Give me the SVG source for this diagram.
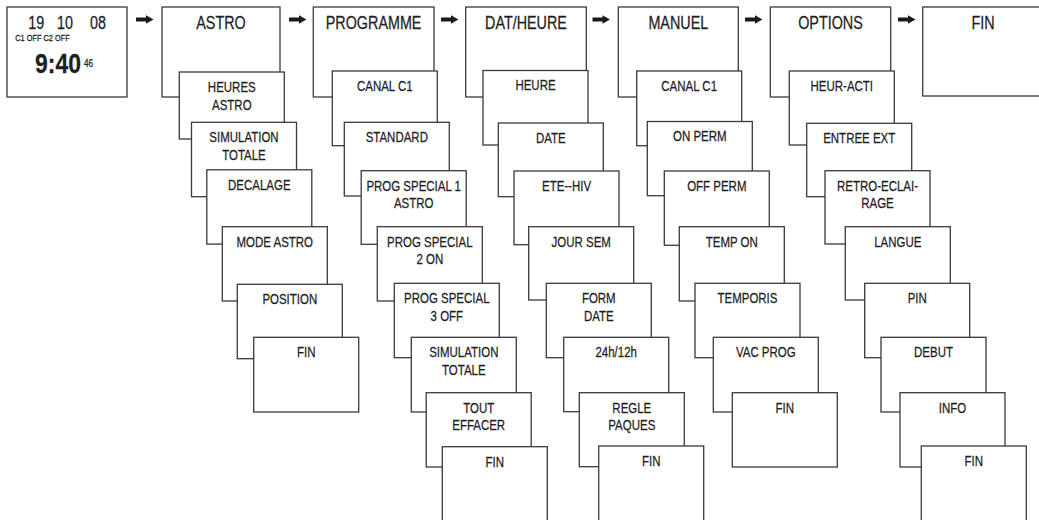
<svg xmlns="http://www.w3.org/2000/svg" width="1039" height="520" viewBox="0 0 1039 520">
<style>
.b{fill:#fff;stroke:#3a3a3a;stroke-width:1.3}
text{font-family:"Liberation Sans",Arial,sans-serif;fill:#1e1e1e;stroke:#1e1e1e;stroke-width:0.25;text-anchor:middle;transform-box:fill-box;transform-origin:center;transform:scaleX(0.82)}
.m{font-size:17.5px}
.s{font-size:14px}
.d{font-size:17.5px}
.a{fill:#1a1a1a}
</style>
<defs>
<path id="arr" class="a" d="M0,-2 h10 v-2.3 l7.5,4.3 l-7.5,4.3 v-2.3 h-10 z"/>
</defs>
<rect width="1039" height="520" fill="#fff"/>

<g id="display">
<rect class="b" x="7" y="7" width="120" height="90"/>
<text class="d" x="36.2" y="29">19</text>
<text class="d" x="65" y="29">10</text>
<text class="d" x="98" y="29">08</text>
<text x="42.5" y="41" style="font-size:9px">C1 OFF C2 OFF</text>
<text x="58" y="72.7" style="font-size:28px;font-weight:bold">9:40</text>
<text x="88.5" y="66.7" style="font-size:10px">46</text>
</g>

<g id="connectors">
<use href="#arr" x="136" y="19.5"/>
<use href="#arr" x="289" y="19.5"/>
<use href="#arr" x="441" y="19.5"/>
<use href="#arr" x="592.5" y="19.5"/>
<use href="#arr" x="745" y="19.5"/>
<use href="#arr" x="898" y="19.5"/>
</g>

<g id="astro">
<rect class="b" x="162" y="7" width="118" height="90"/>
<text class="m" x="221" y="29.5">ASTRO</text>
</g>
<g id="astro-1"><rect class="b" x="179.3" y="72" width="105" height="67"/><text class="s" x="231.8" y="92.3">HEURES</text><text class="s" x="231.8" y="110">ASTRO</text></g>
<g id="astro-2"><rect class="b" x="191.5" y="122.3" width="105" height="74.4"/><text class="s" x="244" y="142.3">SIMULATION</text><text class="s" x="244" y="160">TOTALE</text></g>
<g id="astro-3"><rect class="b" x="206.8" y="169.8" width="105" height="74.3"/><text class="s" x="259.3" y="189.8">DECALAGE</text></g>
<g id="astro-4"><rect class="b" x="222.3" y="226.7" width="105" height="74.3"/><text class="s" x="274.8" y="246.7">MODE ASTRO</text></g>
<g id="astro-5"><rect class="b" x="237.3" y="284.3" width="105" height="74.4"/><text class="s" x="289.8" y="304.3">POSITION</text></g>
<g id="astro-6"><rect class="b" x="253.7" y="337.3" width="105" height="74.7"/><text class="s" x="306.2" y="357.3">FIN</text></g>

<g id="programme">
<rect class="b" x="313.3" y="7" width="120.7" height="90"/>
<text class="m" x="373.6" y="29.5">PROGRAMME</text>
</g>
<g id="prog-1"><rect class="b" x="332.3" y="71" width="105" height="74.7"/><text class="s" x="384.8" y="91">CANAL C1</text></g>
<g id="prog-2"><rect class="b" x="344.3" y="122.3" width="105" height="73.7"/><text class="s" x="396.8" y="142.3">STANDARD</text></g>
<g id="prog-3"><rect class="b" x="361.2" y="170.7" width="105" height="73.6"/><text class="s" x="413.7" y="190.7">PROG SPECIAL 1</text><text class="s" x="413.7" y="208.4">ASTRO</text></g>
<g id="prog-4"><rect class="b" x="377.3" y="226.7" width="105" height="74.3"/><text class="s" x="429.8" y="246.7">PROG SPECIAL</text><text class="s" x="429.8" y="264.4">2 ON</text></g>
<g id="prog-5"><rect class="b" x="394.3" y="283.3" width="105" height="74.4"/><text class="s" x="446.8" y="303.3">PROG SPECIAL</text><text class="s" x="446.8" y="321">3 OFF</text></g>
<g id="prog-6"><rect class="b" x="411.3" y="337.3" width="105" height="74.7"/><text class="s" x="463.8" y="357.3">SIMULATION</text><text class="s" x="463.8" y="375">TOTALE</text></g>
<g id="prog-7"><rect class="b" x="426.2" y="392.7" width="105" height="74.3"/><text class="s" x="478.7" y="412.7">TOUT</text><text class="s" x="478.7" y="430.4">EFFACER</text></g>
<g id="prog-8"><rect class="b" x="442.3" y="446.7" width="105" height="76"/><text class="s" x="494.8" y="466.7">FIN</text></g>

<g id="datheure">
<rect class="b" x="465.7" y="7" width="120.6" height="90"/>
<text class="m" x="526" y="29.5">DAT/HEURE</text>
</g>
<g id="dat-1"><rect class="b" x="483" y="70.5" width="105" height="74.5"/><text class="s" x="535.5" y="90.5">HEURE</text></g>
<g id="dat-2"><rect class="b" x="498.3" y="123" width="105" height="73.7"/><text class="s" x="550.8" y="143">DATE</text></g>
<g id="dat-3"><rect class="b" x="514" y="171" width="105" height="73.7"/><text class="s" x="566.5" y="191">ETE--HIV</text></g>
<g id="dat-4"><rect class="b" x="528.7" y="226.7" width="105" height="73.3"/><text class="s" x="581.2" y="246.7">JOUR SEM</text></g>
<g id="dat-5"><rect class="b" x="546.3" y="283.3" width="105" height="74.4"/><text class="s" x="598.8" y="303.3">FORM</text><text class="s" x="598.8" y="321">DATE</text></g>
<g id="dat-6"><rect class="b" x="563.7" y="337.3" width="105" height="74.4"/><text class="s" x="616.2" y="357.3">24h/12h</text></g>
<g id="dat-7"><rect class="b" x="579.3" y="392.7" width="105" height="74"/><text class="s" x="631.8" y="412.7">REGLE</text><text class="s" x="631.8" y="430.4">PAQUES</text></g>
<g id="dat-8"><rect class="b" x="598.7" y="446" width="105" height="76"/><text class="s" x="651.2" y="466">FIN</text></g>

<g id="manuel">
<rect class="b" x="618.3" y="7" width="120" height="90"/>
<text class="m" x="678.3" y="29.5">MANUEL</text>
</g>
<g id="man-1"><rect class="b" x="636.7" y="71" width="105" height="74.7"/><text class="s" x="689.2" y="91">CANAL C1</text></g>
<g id="man-2"><rect class="b" x="647.3" y="121.5" width="105" height="74.2"/><text class="s" x="699.8" y="141.5">ON PERM</text></g>
<g id="man-3"><rect class="b" x="664.3" y="171" width="105" height="74.3"/><text class="s" x="716.8" y="191">OFF PERM</text></g>
<g id="man-4"><rect class="b" x="679.3" y="226.7" width="105" height="74.3"/><text class="s" x="731.8" y="246.7">TEMP ON</text></g>
<g id="man-5"><rect class="b" x="695" y="283.3" width="105" height="74.4"/><text class="s" x="747.5" y="303.3">TEMPORIS</text></g>
<g id="man-6"><rect class="b" x="713.3" y="337.3" width="105" height="74.7"/><text class="s" x="765.8" y="357.3">VAC PROG</text></g>
<g id="man-7"><rect class="b" x="732.3" y="392.7" width="105" height="74.3"/><text class="s" x="784.8" y="412.7">FIN</text></g>

<g id="options">
<rect class="b" x="770.3" y="7" width="120.4" height="90"/>
<text class="m" x="830.5" y="29.5">OPTIONS</text>
</g>
<g id="opt-1"><rect class="b" x="789.3" y="71" width="105" height="74"/><text class="s" x="841.8" y="91">HEUR-ACTI</text></g>
<g id="opt-2"><rect class="b" x="806.7" y="123.3" width="105" height="73.4"/><text class="s" x="859.2" y="143.3">ENTREE EXT</text></g>
<g id="opt-3"><rect class="b" x="825" y="170.7" width="105" height="73.3"/><text class="s" x="877.5" y="190.7">RETRO-ECLAI-</text><text class="s" x="877.5" y="208.4">RAGE</text></g>
<g id="opt-4"><rect class="b" x="845.3" y="226.7" width="105" height="73.3"/><text class="s" x="897.8" y="246.7">LANGUE</text></g>
<g id="opt-5"><rect class="b" x="864.7" y="283.3" width="105" height="74.4"/><text class="s" x="917.2" y="303.3">PIN</text></g>
<g id="opt-6"><rect class="b" x="881" y="337.3" width="105" height="74.7"/><text class="s" x="933.5" y="357.3">DEBUT</text></g>
<g id="opt-7"><rect class="b" x="900" y="392.7" width="105" height="74.3"/><text class="s" x="952.5" y="412.7">INFO</text></g>
<g id="opt-8"><rect class="b" x="921.3" y="446" width="105" height="76"/><text class="s" x="973.8" y="466">FIN</text></g>

<g id="fin">
<rect class="b" x="922.7" y="7" width="121" height="89"/>
<text class="m" x="983" y="29.5">FIN</text>
</g>
</svg>
